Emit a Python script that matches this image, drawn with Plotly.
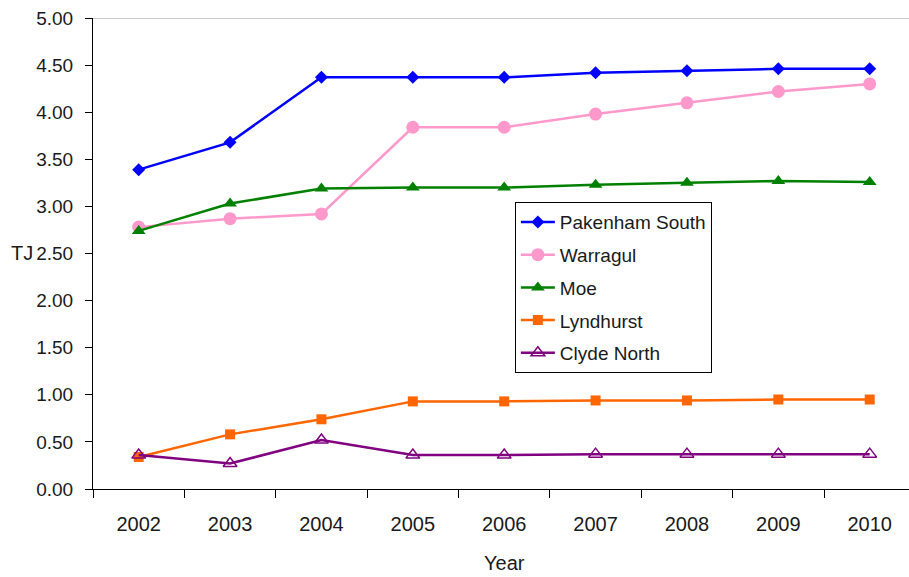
import plotly.graph_objects as go

# Annual values (TJ) by site
years = ["2002", "2003", "2004", "2005", "2006", "2007", "2008", "2009", "2010"]
pakenham_south = [3.39, 3.68, 4.37, 4.37, 4.37, 4.42, 4.44, 4.46, 4.46]
warragul = [2.78, 2.87, 2.92, 3.84, 3.84, 3.98, 4.10, 4.22, 4.30]
moe = [2.74, 3.03, 3.19, 3.20, 3.20, 3.23, 3.25, 3.27, 3.26]
lyndhurst = [0.34, 0.58, 0.74, 0.93, 0.93, 0.94, 0.94, 0.95, 0.95]
clyde_north = [0.36, 0.27, 0.52, 0.36, 0.36, 0.37, 0.37, 0.37, 0.37]
y_ticks = [0.0, 0.5, 1.0, 1.5, 2.0, 2.5, 3.0, 3.5, 4.0, 4.5, 5.0]

FONT = "Liberation Sans, Arial, sans-serif"
TEXT = "#1a1a1a"

series = [
    ("Pakenham South", pakenham_south, "#0000FF", dict(symbol="diamond", size=10)),
    ("Warragul", warragul, "#FF99CC", dict(symbol="circle", size=13)),
    ("Moe", moe, "#008000", dict(symbol="triangle-up", size=12)),
    ("Lyndhurst", lyndhurst, "#FF6600", dict(symbol="square", size=10)),
    ("Clyde North", clyde_north, "#800080",
     dict(symbol="triangle-up-open", size=12, line=dict(width=1.5))),
]

fig = go.Figure()
for name, vals, color, marker in series:
    fig.add_trace(go.Scatter(
        x=years, y=vals, name=name, mode="lines+markers",
        line=dict(color=color, width=2.5),
        marker=dict(color=color, **marker),
        legendgroup=name,
    ))

fig.update_layout(
    width=909, height=577,
    margin=dict(l=93, r=0, t=18, b=88),
    paper_bgcolor="white", plot_bgcolor="white",
    font=dict(family=FONT, size=20, color=TEXT),
    showlegend=True,
    legend=dict(
        x=0.517, y=0.609, xanchor="left", yanchor="top",
        bgcolor="white", bordercolor="black", borderwidth=1,
        font=dict(family=FONT, size=19, color=TEXT),
        traceorder="grouped", tracegroupgap=5, itemwidth=34,
    ),
    xaxis=dict(
        type="category", range=[-0.5, 8.43],
        showline=True, linecolor="black", linewidth=1,
        ticks="outside", tickson="boundaries", ticklen=8, tickcolor="black",
        ticklabelstandoff=17,
        showgrid=False, zeroline=False,
        tickfont=dict(family=FONT, size=20, color=TEXT),
    ),
    yaxis=dict(
        range=[0, 5], tickvals=y_ticks, tickformat=".2f",
        showline=True, linecolor="black", linewidth=1,
        ticks="outside", ticklen=7, tickcolor="black",
        ticklabelstandoff=8,
        showgrid=False, zeroline=False,
        tickfont=dict(family=FONT, size=19, color=TEXT),
    ),
    shapes=[dict(
        type="line", xref="x domain", x0=0, x1=1, yref="y", y0=5, y1=5,
        line=dict(color="#9a9a9a", width=1),
    )],
    annotations=[
        dict(text="TJ", xref="paper", yref="paper", x=(9 - 93) / 816, y=0.501,
             xanchor="left", yanchor="middle", showarrow=False,
             font=dict(family=FONT, size=20, color=TEXT)),
        dict(text="Year", xref="paper", yref="paper", x=0.5037, y=-0.157,
             xanchor="center", yanchor="middle", showarrow=False,
             font=dict(family=FONT, size=20, color=TEXT)),
    ],
)

fig.write_html("out.html")
